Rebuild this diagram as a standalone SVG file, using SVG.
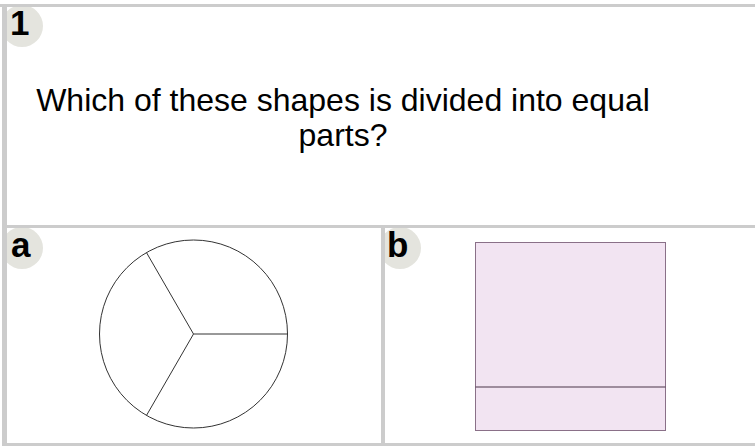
<svg xmlns="http://www.w3.org/2000/svg" width="755" height="447" viewBox="0 0 755 447">
<style>
.border{fill:#cccccc}
.badge{fill:#e4e4de}
.lbl{font-family:"Liberation Sans",Arial,sans-serif;font-weight:bold;font-size:35px;fill:#000}
.q{font-family:"Liberation Sans",Arial,sans-serif;font-size:32px;fill:#000;text-anchor:middle}
.shape{fill:none;stroke:#333;stroke-width:1}
</style>
<rect width="755" height="447" fill="#fff"/>
<g id="question">
<clipPath id="c1"><rect x="7" y="7" width="748" height="218"/></clipPath>
<circle class="badge" cx="22" cy="26" r="21" clip-path="url(#c1)"/>
<text class="lbl" x="10" y="35">1</text>
<text class="q" x="343" y="111">Which of these shapes is divided into equal</text>
<text class="q" x="343" y="146">parts?</text>
</g>
<g id="option-a">
<clipPath id="c2"><rect x="7" y="228" width="374" height="215"/></clipPath>
<circle class="badge" cx="22" cy="248" r="21" clip-path="url(#c2)"/>
<text class="lbl" x="11" y="257">a</text>
<circle class="shape" cx="193.5" cy="334" r="94"/>
<path class="shape" d="M193.5 334 L287.5 334 M193.5 334 L146.5 252.6 M193.5 334 L146.5 415.4"/>
</g>
<g id="option-b">
<clipPath id="c3"><rect x="385" y="228" width="370" height="215"/></clipPath>
<circle class="badge" cx="400" cy="248" r="21" clip-path="url(#c3)"/>
<text class="lbl" x="387" y="257">b</text>
<rect x="475.5" y="242.5" width="190" height="188" fill="#f2e4f2" stroke="#8a7088" stroke-width="1"/>
<line x1="475.5" y1="387" x2="665.5" y2="387" stroke="#4a3448" stroke-width="1"/>
</g>
<g id="borders">
<rect class="border" x="0" y="4" width="755" height="3"/>
<rect class="border" x="2" y="4" width="5" height="442"/>
<rect class="border" x="2" y="225" width="753" height="3"/>
<rect class="border" x="381" y="225" width="4" height="221"/>
<rect class="border" x="2" y="443" width="753" height="3"/>
</g>
</svg>
